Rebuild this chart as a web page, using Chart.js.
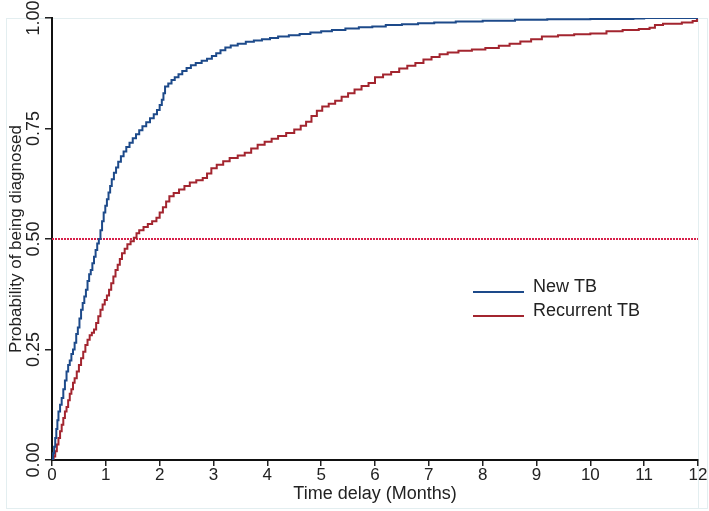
<!DOCTYPE html>
<html lang="en">
<head>
    <meta charset="UTF-8">
    <title>Time to diagnosis</title>
    <script src="https://cdn.jsdelivr.net/npm/chart.js@4.4.1/dist/chart.umd.min.js"></script>
    <style>
        html, body { margin: 0; padding: 0; background: #fff; }
        #container { width: 709px; height: 511px; }
    </style>
</head>
<body>
<div id="container">
    <canvas id="canvas"></canvas>
</div>
<script>
    // cumulative probability of being diagnosed
    var newTimes = [0, 0.02, 0.04, 0.06, 0.08, 0.1, 0.12, 0.15, 0.18, 0.21, 0.24, 0.27, 0.3, 0.33, 0.36, 0.39,
        0.42, 0.45, 0.48, 0.51, 0.54, 0.57, 0.6, 0.63, 0.66, 0.69, 0.72, 0.75, 0.78, 0.81, 0.84, 0.87,
        0.9, 0.93, 0.96, 0.99, 1.02, 1.05, 1.08, 1.11, 1.15, 1.19, 1.23, 1.28, 1.33, 1.38, 1.44, 1.5,
        1.56, 1.62, 1.68, 1.75, 1.82, 1.89, 1.95, 2.0, 2.04, 2.07, 2.1, 2.16, 2.22, 2.28, 2.35, 2.42,
        2.5, 2.58, 2.67, 2.78, 2.88, 2.97, 3.05, 3.13, 3.22, 3.32, 3.45, 3.6, 3.75, 3.9, 4.05, 4.2,
        4.4, 4.6, 4.8, 5.0, 5.2, 5.45, 5.7, 5.95, 6.2, 6.5, 6.8, 7.1, 7.5, 8.0, 8.6, 9.2,
        10.0, 10.8, 11.0, 12.0];
    var newProb = [0, 0.015, 0.03, 0.05, 0.07, 0.09, 0.11, 0.125, 0.14, 0.16, 0.18, 0.2, 0.215, 0.225, 0.24, 0.25,
        0.265, 0.285, 0.3, 0.32, 0.34, 0.355, 0.37, 0.385, 0.405, 0.42, 0.43, 0.445, 0.46, 0.475, 0.49, 0.5,
        0.52, 0.54, 0.56, 0.575, 0.59, 0.605, 0.62, 0.635, 0.65, 0.662, 0.675, 0.687, 0.698, 0.708, 0.718, 0.728,
        0.737, 0.746, 0.755, 0.764, 0.773, 0.782, 0.792, 0.803, 0.815, 0.83, 0.845, 0.852, 0.86, 0.866, 0.873, 0.88,
        0.887, 0.893, 0.898, 0.903, 0.908, 0.914, 0.92, 0.927, 0.933, 0.938, 0.942, 0.946, 0.949, 0.952, 0.955, 0.958,
        0.961, 0.964, 0.967, 0.97, 0.973, 0.976, 0.979, 0.981, 0.984, 0.986, 0.988, 0.99, 0.992, 0.994, 0.996, 0.997,
        0.998, 0.999, 1.0, 1.0];

    var recTimes = [0, 0.03, 0.06, 0.09, 0.12, 0.15, 0.18, 0.21, 0.24, 0.27, 0.3, 0.33, 0.36, 0.39, 0.42, 0.46,
        0.5, 0.54, 0.58, 0.62, 0.66, 0.7, 0.74, 0.78, 0.82, 0.86, 0.9, 0.94, 0.98, 1.02, 1.06, 1.1,
        1.14, 1.18, 1.22, 1.26, 1.3, 1.35, 1.4, 1.46, 1.52, 1.57, 1.62, 1.7, 1.78, 1.86, 1.94, 2.0,
        2.06, 2.12, 2.18, 2.26, 2.36, 2.46, 2.56, 2.68, 2.8, 2.88, 2.96, 3.06, 3.18, 3.3, 3.45, 3.58,
        3.7, 3.82, 3.95, 4.08, 4.2, 4.35, 4.5, 4.62, 4.72, 4.82, 4.92, 5.02, 5.14, 5.26, 5.38, 5.5,
        5.62, 5.75, 5.88, 6.0, 6.15, 6.3, 6.45, 6.6, 6.75, 6.9, 7.05, 7.2, 7.35, 7.55, 7.8, 8.05,
        8.3, 8.5, 8.7, 8.9, 9.1, 9.4, 9.7, 10.0, 10.3, 10.6, 10.9, 11.1, 11.2, 11.35, 11.7, 11.9,
        11.98, 12.0];
    var recProb = [0, 0.008, 0.02, 0.035, 0.05, 0.065, 0.08, 0.095, 0.11, 0.12, 0.135, 0.15, 0.16, 0.175, 0.185, 0.2,
        0.215, 0.23, 0.245, 0.26, 0.272, 0.282, 0.288, 0.295, 0.31, 0.325, 0.34, 0.352, 0.362, 0.372, 0.385, 0.4,
        0.415, 0.43, 0.442, 0.455, 0.468, 0.478, 0.488, 0.495, 0.503, 0.513, 0.52, 0.527, 0.534, 0.54, 0.548, 0.56,
        0.572, 0.585, 0.597, 0.604, 0.612, 0.62, 0.628, 0.633, 0.638, 0.648, 0.66, 0.668, 0.676, 0.683, 0.689, 0.695,
        0.705, 0.713, 0.72, 0.727, 0.733, 0.74, 0.748, 0.756, 0.765, 0.778, 0.79, 0.8, 0.806, 0.813, 0.822, 0.83,
        0.838, 0.846, 0.853, 0.866, 0.872, 0.878, 0.886, 0.892, 0.898, 0.906, 0.912, 0.918, 0.922, 0.926, 0.929, 0.932,
        0.937, 0.942, 0.947, 0.952, 0.958, 0.961, 0.963, 0.965, 0.97, 0.973, 0.975, 0.978, 0.984, 0.987, 0.99, 0.993,
        0.997, 1.0];

    var seriesNames = ['New TB', 'Recurrent TB'];
    var xTicks = [0, 1, 2, 3, 4, 5, 6, 7, 8, 9, 10, 11, 12];
    var yTicks = [0, 0.25, 0.5, 0.75, 1];
    var medianLine = 0.5;

    var FONT = "'Liberation Sans', Arial, sans-serif";

    function pairs(xs, ys) {
        return xs.map(function(x, i) { return {x: x, y: ys[i]}; });
    }

    // faint frame round the figure, like the original export
    var framePlugin = {
        id: 'frame',
        beforeDraw: function(chart) {
            var ctx = chart.ctx;
            ctx.save();
            ctx.strokeStyle = '#e3eef0';
            ctx.lineWidth = 1;
            ctx.strokeRect(6.5, 18.5, 701, 490);
            ctx.beginPath();
            ctx.moveTo(chart.chartArea.left, chart.chartArea.top + 0.5);
            ctx.lineTo(chart.chartArea.right + 0.5, chart.chartArea.top + 0.5);
            ctx.lineTo(chart.chartArea.right + 0.5, 508);
            ctx.stroke();
            ctx.restore();
        }
    };

    // legend sits inside the plot region on the right
    var legendPlugin = {
        id: 'insideLegend',
        afterDatasetsDraw: function(chart) {
            var ctx = chart.ctx;
            var x0 = 473, y0 = 287, gap = 24;
            ctx.save();
            ctx.font = '18px ' + FONT;
            ctx.textBaseline = 'middle';
            ctx.fillStyle = '#222';
            for (var i = 0; i < seriesNames.length; i++) {
                var ds = chart.data.datasets[i];
                ctx.strokeStyle = ds.borderColor;
                ctx.lineWidth = 2;
                ctx.beginPath();
                ctx.moveTo(x0, y0 + i * gap + 5);
                ctx.lineTo(x0 + 51, y0 + i * gap + 5);
                ctx.stroke();
                ctx.fillText(ds.label, x0 + 60, y0 + i * gap);
            }
            ctx.restore();
        }
    };

    window.onload = function() {
        var ctx = document.getElementById('canvas').getContext('2d');
        window.myChart = new Chart(ctx, {
            type: 'line',
            data: {
                datasets: [{
                    label: seriesNames[0],
                    data: pairs(newTimes, newProb),
                    borderColor: '#1d4a8a',
                    borderWidth: 2,
                    stepped: true,
                    pointRadius: 0,
                    fill: false
                }, {
                    label: seriesNames[1],
                    data: pairs(recTimes, recProb),
                    borderColor: '#a3252f',
                    borderWidth: 2,
                    stepped: true,
                    pointRadius: 0,
                    fill: false
                }, {
                    label: 'median',
                    data: [{x: xTicks[0], y: medianLine}, {x: xTicks[xTicks.length - 1], y: medianLine}],
                    borderColor: '#d8204a',
                    borderWidth: 2,
                    borderDash: [2, 1],
                    pointRadius: 0,
                    fill: false
                }]
            },
            options: {
                responsive: true,
                maintainAspectRatio: false,
                animation: false,
                layout: { padding: { left: 6, right: 11, top: 18, bottom: 4 } },
                plugins: {
                    legend: { display: false },
                    tooltip: { enabled: false }
                },
                scales: {
                    x: {
                        type: 'linear',
                        min: 0,
                        max: 12,
                        afterBuildTicks: function(s) {
                            s.ticks = xTicks.map(function(v) { return {value: v}; });
                        },
                        grid: {
                            display: true,
                            drawOnChartArea: false,
                            drawTicks: true,
                            tickLength: 6,
                            color: '#222',
                            lineWidth: 1.5
                        },
                        border: { display: true, color: '#111', width: 2 },
                        ticks: {
                            color: '#222',
                            font: { family: FONT, size: 17 },
                            padding: -1,
                            maxRotation: 0,
                            autoSkip: false
                        },
                        title: {
                            display: true,
                            text: 'Time delay (Months)',
                            color: '#222',
                            font: { family: FONT, size: 18 },
                            padding: { top: 0, bottom: 2 }
                        },
                        afterFit: function(s) { s.height = 47; }
                    },
                    y: {
                        type: 'linear',
                        min: 0,
                        max: 1,
                        afterBuildTicks: function(s) {
                            s.ticks = yTicks.map(function(v) { return {value: v}; });
                        },
                        grid: {
                            display: true,
                            drawOnChartArea: false,
                            drawTicks: true,
                            tickLength: 7,
                            color: '#222',
                            lineWidth: 1.5
                        },
                        border: { display: true, color: '#111', width: 2 },
                        ticks: {
                            color: '#222',
                            font: { family: FONT, size: 18 },
                            minRotation: 90,
                            maxRotation: 90,
                            crossAlign: 'center',
                            padding: -7,
                            callback: function(v) { return v.toFixed(2); }
                        },
                        title: {
                            display: true,
                            text: 'Probability of being diagnosed',
                            color: '#222',
                            font: { family: FONT, size: 17 },
                            padding: { top: 0, bottom: 0 }
                        },
                        afterFit: function(s) { s.width = 46; }
                    }
                }
            },
            plugins: [framePlugin, legendPlugin]
        });
    };
</script>
</body>
</html>
